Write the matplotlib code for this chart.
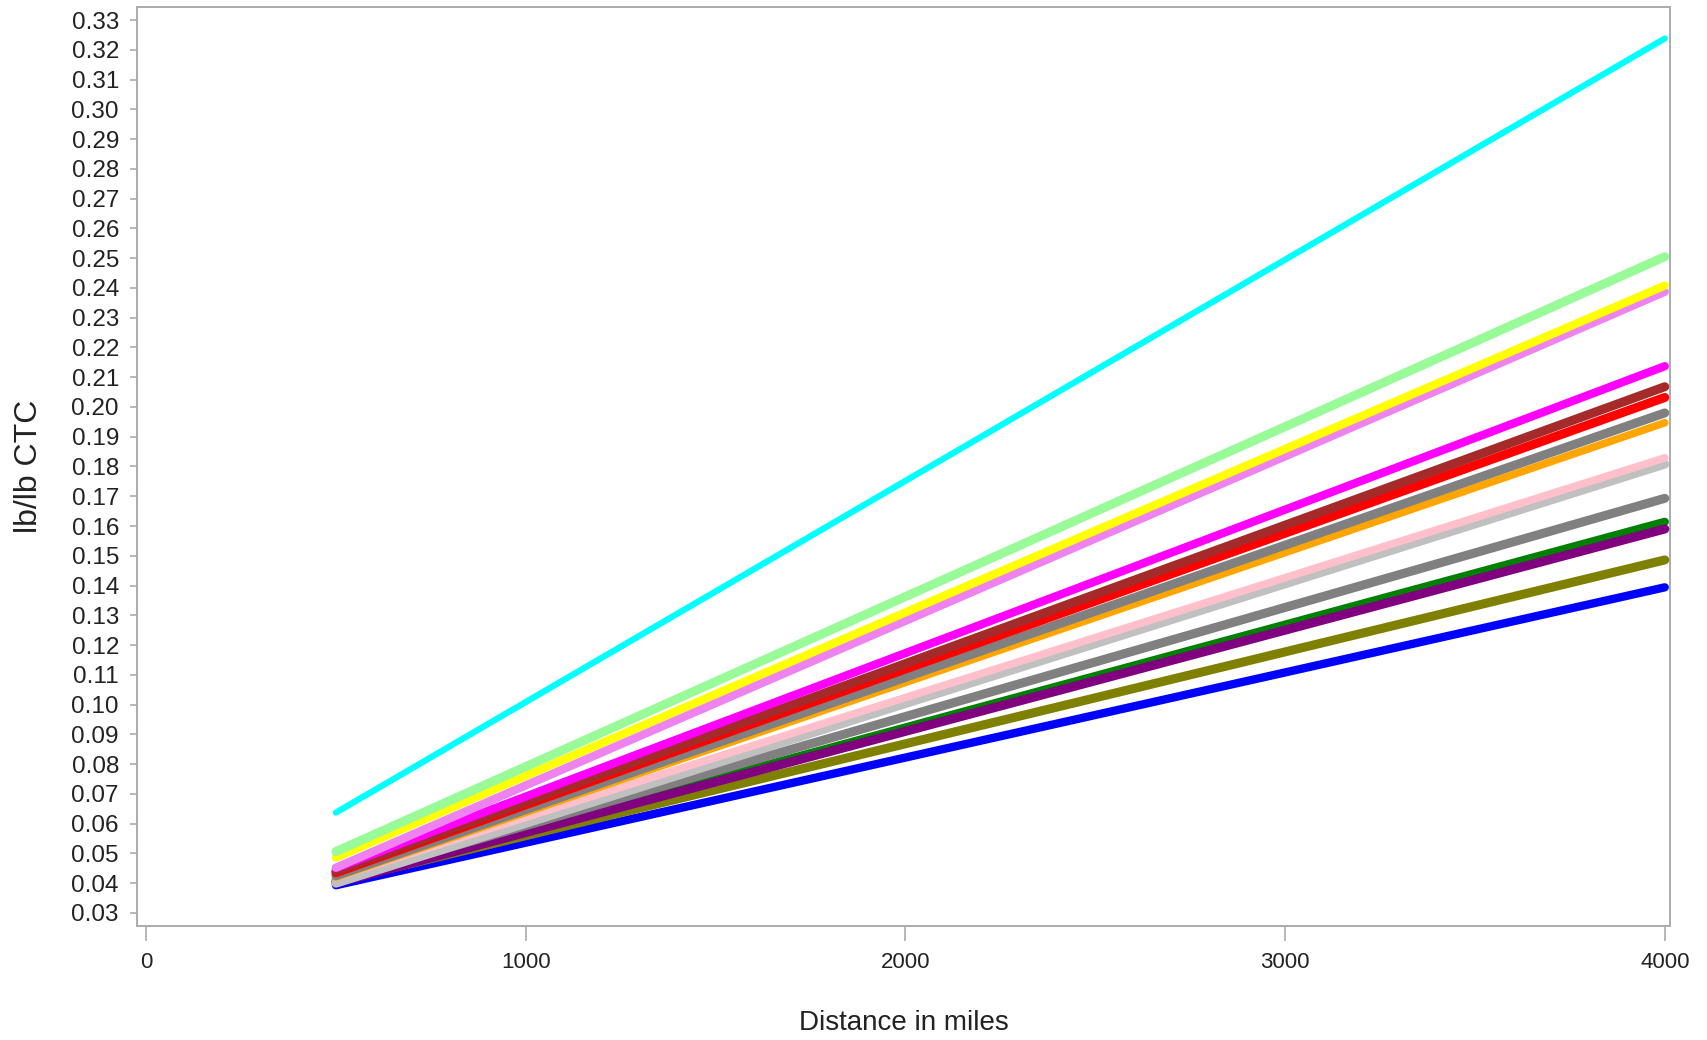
import matplotlib
matplotlib.use("Agg")
import matplotlib.pyplot as plt
from matplotlib.ticker import MultipleLocator, FormatStrFormatter

plt.rcParams['font.family'] = ['Liberation Sans', 'DejaVu Sans']

OUTFILE = "out.png"

# distance endpoints shared by every cost line
distance = [500, 4000]

line_colors = ['cyan', 'palegreen', 'yellow', 'violet', 'magenta', 'brown',
               'red', 'gray', 'orange', 'pink', 'silver', 'grey',
               'green', 'purple', 'olive', 'blue']

# lb/lb CTC at 500 and 4000 miles
ctc_start = [0.0637, 0.0506, 0.0486, 0.0452, 0.0450, 0.0440,
             0.0435, 0.0425, 0.0420, 0.0420, 0.0400, 0.0410,
             0.0405, 0.0400, 0.0405, 0.0393]
ctc_end = [0.3238, 0.2505, 0.2408, 0.2387, 0.2137, 0.2068,
           0.2032, 0.1980, 0.1947, 0.1829, 0.1808, 0.1693,
           0.1614, 0.1590, 0.1486, 0.1394]

widths = [4.5, 6.5, 6.0, 6.0, 6.0, 6.5, 6.5, 6.5, 5.5, 5.5, 6.5, 6.5,
          6.0, 6.5, 6.5, 6.0]

x_ticks = [0, 1000, 2000, 3000, 4000]

fig = plt.figure(figsize=(17.08, 10.40), dpi=100)
ax = fig.add_axes([0.0802, 0.1096, 0.8976, 0.8837])

# draw lowest lines first so the upper ones sit on top
n = len(line_colors)
for i in reversed(range(n)):
    z = 2 + n - i
    if line_colors[i] == 'purple':
        z += 2  # purple sits over green
    ax.plot(distance, [ctc_start[i], ctc_end[i]], color=line_colors[i],
            lw=widths[i], solid_capstyle='round', zorder=z)

ax.set_xlim(-24, 4014)
ax.set_ylim(0.0256, 0.3344)
ax.set_xticks(x_ticks)
ax.yaxis.set_major_locator(MultipleLocator(0.01))
ax.yaxis.set_major_formatter(FormatStrFormatter('%.2f'))

frame = '#a8acb0'
for s in ax.spines.values():
    s.set_color(frame)
    s.set_linewidth(1.4)
ax.tick_params(axis='y', direction='out', length=5, width=1.2, color=frame,
               labelsize=17.5, labelcolor='#222222', pad=8)
ax.tick_params(axis='x', direction='out', length=11, width=1.2, color=frame,
               labelsize=16, labelcolor='#222222', pad=8)

ax.set_xlabel('Distance in miles', fontsize=20, color='#222222', labelpad=26)
ax.set_ylabel('lb/lb CTC', fontsize=23, color='#222222', labelpad=20)

fig.savefig(OUTFILE, dpi=100)
